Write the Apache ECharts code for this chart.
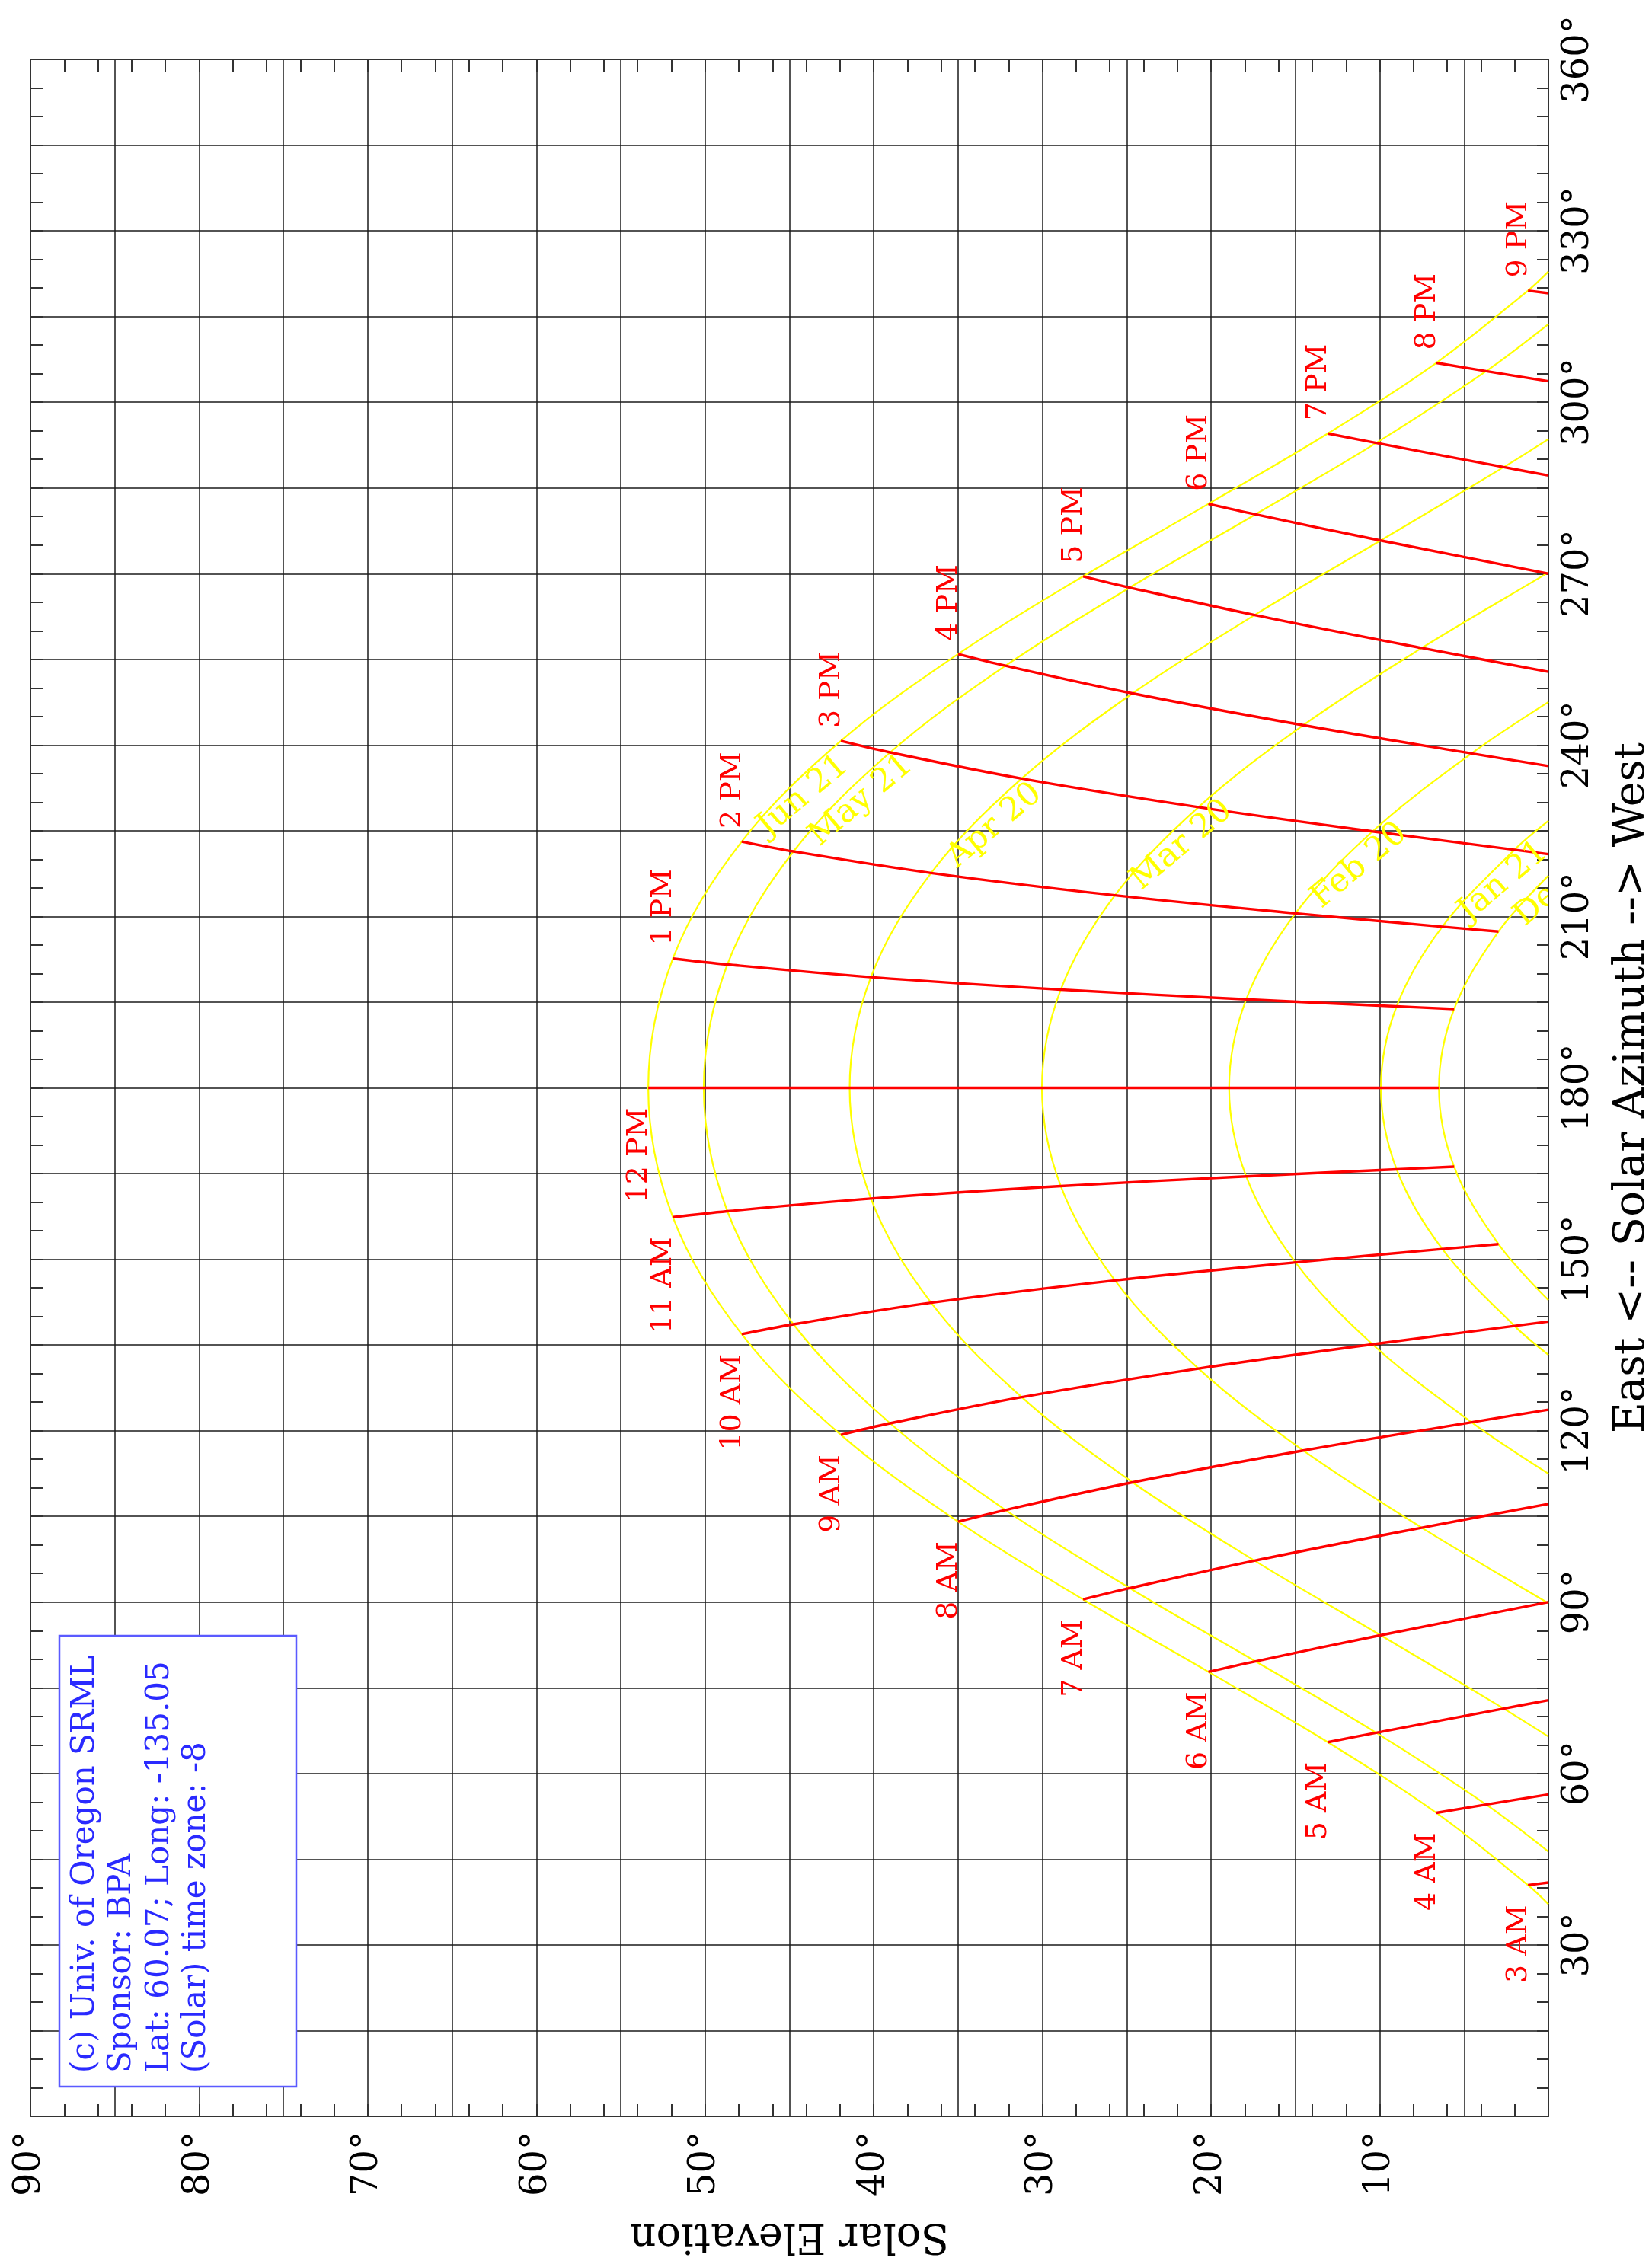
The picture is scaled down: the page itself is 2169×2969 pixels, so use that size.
<!DOCTYPE html>
<html>
<head>
<meta charset="utf-8">
<script src="https://cdn.jsdelivr.net/npm/echarts@6/dist/echarts.min.js"></script>
<style>
html,body{margin:0;padding:0;background:#ffffff;}
#chart{width:2169px;height:2969px;}
</style>
</head>
<body>
<div id="chart"></div>
<script>
// ---------------- data ----------------
const hours = [3,4,5,6,7,8,9,10,11,12,13,14,15,16,17,18,19,20,21];
const hourLabels = ['3 AM','4 AM','5 AM','6 AM','7 AM','8 AM','9 AM','10 AM','11 AM','12 PM',
  '1 PM','2 PM','3 PM','4 PM','5 PM','6 PM','7 PM','8 PM','9 PM'];
const dateNames = ['Jun 21','May 21','Apr 20','Mar 20','Feb 20','Jan 21','Dec 21'];

// solar elevation (deg) / azimuth (deg) at each hour, null = sun below horizon
const elevJun21 = [1.21,6.65,13.08,20.16,27.59,35.00,41.95,47.83,51.91,53.37,51.91,47.83,41.95,35.00,27.59,20.16,13.08,6.65,1.21];
const azJun21   = [40.46,53.12,65.48,77.79,90.47,104.07,119.28,136.89,157.37,180,202.63,223.11,240.72,255.93,269.53,282.21,294.52,306.88,319.54];
const elevMay21 = [null,3.69,10.21,17.37,24.82,32.19,39.03,44.76,48.68,50.08,48.68,44.76,39.03,32.19,24.82,17.37,10.21,3.69,null];
const azMay21   = [null,54.56,67.13,79.63,92.44,106.12,121.29,138.62,158.41,180,201.59,221.38,238.71,253.88,267.56,280.37,292.87,305.44,null];
const elevApr20 = [null,null,2.65,9.95,17.42,24.66,31.23,36.60,40.17,41.43,40.17,36.60,31.23,24.66,17.42,9.95,2.65,null,null];
const azApr20   = [null,null,71.36,84.20,97.24,110.96,125.87,142.39,160.62,180,199.38,217.61,234.13,249.04,262.76,275.80,288.64,null,null];
const elevMar20 = [null,null,null,0.09,7.51,14.54,20.75,25.70,28.91,30.03,28.91,25.70,20.75,14.54,7.51,0.09,null,null,null];
const azMar20   = [null,null,null,89.95,103.02,116.53,130.87,146.30,162.80,180,197.20,213.70,229.13,243.47,256.98,270.05,null,null,null];
const elevFeb20 = [null,null,null,null,null,4.56,10.43,15.00,17.92,18.93,17.92,15.00,10.43,4.56,null,null,null,null,null];
const azFeb20   = [null,null,null,null,null,121.48,135.11,149.46,164.51,180,195.49,210.54,224.89,238.52,null,null,null,null,null];
const elevJan21 = [null,null,null,null,null,null,2.01,6.29,9.00,9.93,9.00,6.29,2.01,null,null,null,null,null,null];
const azJan21   = [null,null,null,null,null,null,138.33,151.79,165.74,180,194.26,208.21,221.67,null,null,null,null,null,null];
const elevDec21 = [null,null,null,null,null,null,null,2.96,5.59,6.49,5.59,2.96,null,null,null,null,null,null,null];
const azDec21   = [null,null,null,null,null,null,null,152.65,166.20,180,193.80,207.35,null,null,null,null,null,null,null];

// sunrise / sunset azimuth for each date (elevation 0)
const sunriseAz = [37.14,46.33,66.45,89.80,112.48,133.27,142.86];
const sunsetAz  = [322.86,313.67,293.55,270.20,247.52,226.73,217.14];
// azimuth where each hour line meets the horizon (null = line ends on Dec 21)
const hourHorizonAz = [40.91,56.33,72.82,90.00,107.18,123.67,139.09,null,null,null,null,null,220.91,236.33,252.82,270.00,287.18,303.67,319.09];

const legendLines = ['(c) Univ. of Oregon SRML','Sponsor: BPA','Lat: 60.07; Long: -135.05','(Solar) time zone: -8'];

// --------------- build ----------------
const elevByDate = [elevJun21,elevMay21,elevApr20,elevMar20,elevFeb20,elevJan21,elevDec21];
const azByDate   = [azJun21,azMay21,azApr20,azMar20,azFeb20,azJan21,azDec21];
const FONT = '"DejaVu Serif", "Liberation Serif", serif';

const series = [];
dateNames.forEach((name, d) => {
  const pts = [[0, sunriseAz[d]]];
  hours.forEach((h, i) => { if (elevByDate[d][i] !== null) pts.push([elevByDate[d][i], azByDate[d][i]]); });
  pts.push([0, sunsetAz[d]]);
  series.push({type:'line', name, data:pts, smooth:0.35, symbol:'none', clip:true, z:2,
    lineStyle:{color:'#ffff00', width:2.2}, silent:true});
});
hours.forEach((h, i) => {
  const pts = [];
  dateNames.forEach((n, d) => { if (elevByDate[d][i] !== null) pts.push([elevByDate[d][i], azByDate[d][i]]); });
  if (hourHorizonAz[i] !== null) pts.push([0, hourHorizonAz[i]]);
  series.push({type:'line', name:hourLabels[i], data:pts, smooth:0.35, symbol:'none', clip:true, z:3,
    lineStyle:{color:'#ff0000', width:3.4}, silent:true});
});
// hour labels (anchored on the Jun 21 points)
series.push({type:'custom', name:'hourLabels', clip:false, z:5, silent:true,
  data: hours.map((h, i) => [elevJun21[i], azJun21[i], i]),
  renderItem: (params, api) => {
    const i = api.value(2);
    const p = api.coord([api.value(0), api.value(1)]);
    const pm = hours[i] > 12;
    return {type:'text', x:p[0] + 7, y: pm ? p[1] - 17 : p[1] + 26, rotation: Math.PI/2,
      style:{text:hourLabels[i], fill:'#ff0000', font:'38px ' + FONT,
        align: pm ? 'left' : 'right', verticalAlign:'bottom'}};
  }});
// date labels (anchored on the 2 PM point of each date)
series.push({type:'custom', name:'dateLabels', clip:true, z:5, silent:true,
  data: dateNames.map((n, d) => [elevByDate[d][11], azByDate[d][11], d]),
  renderItem: (params, api) => {
    const d = api.value(2);
    const p = api.coord([api.value(0), api.value(1)]);
    return {type:'text', x:p[0] + 13, y:p[1] - 31, rotation: 40*Math.PI/180,
      style:{text:dateNames[d], fill:'#ffff00', font:'43px ' + FONT,
        align:'left', verticalAlign:'top'}};
  }});

const axisCol = '#333333';
const gridCol = '#1a1a1a';
function xBase(extra){
  return Object.assign({type:'value', min:0, max:90, inverse:true, gridIndex:0}, extra);
}
function yBase(extra){
  return Object.assign({type:'value', min:0, max:360, gridIndex:0}, extra);
}

const option = {
  animation:false,
  backgroundColor:'#ffffff',
  grid:{left:40, top:78, width:1993, height:2701, containLabel:false, outerBoundsMode:'none'},
  xAxis:[
    xBase({position:'bottom', interval:2,
      axisLine:{show:true, onZero:false, lineStyle:{color:axisCol, width:2}},
      axisTick:{show:true, inside:true, length:16, lineStyle:{color:axisCol, width:2}},
      axisLabel:{show:true, rotate:90, margin:20, color:'#000', fontFamily:FONT, fontSize:48,
        formatter:(v) => (v % 10 === 0 && v > 0) ? v + '°' : ''},
      splitLine:{show:false},
      name:'Solar Elevation', nameLocation:'middle', nameRotate:180, nameGap:129,
      nameTextStyle:{color:'#000', fontFamily:FONT, fontSize:54}}),
    xBase({position:'bottom', interval:5,
      axisLine:{show:false, onZero:false}, axisTick:{show:false}, axisLabel:{show:false},
      splitLine:{show:true, lineStyle:{color:gridCol, width:1.5}}}),
    xBase({position:'top', interval:2,
      axisLine:{show:true, onZero:false, lineStyle:{color:axisCol, width:2}},
      axisTick:{show:true, inside:true, length:16, lineStyle:{color:axisCol, width:2}},
      axisLabel:{show:false}, splitLine:{show:false}})
  ],
  yAxis:[
    yBase({position:'right', interval:5,
      axisLine:{show:true, onZero:false, lineStyle:{color:axisCol, width:2}},
      axisTick:{show:true, inside:true, length:15, lineStyle:{color:axisCol, width:2}},
      axisLabel:{show:true, rotate:90, margin:16, color:'#000', fontFamily:FONT, fontSize:48,
        formatter:(v) => (v % 30 === 0 && v > 0) ? v + '°' : ''},
      splitLine:{show:false},
      name:'East <-- Solar Azimuth --> West', nameLocation:'middle', nameRotate:90, nameGap:82,
      nameTextStyle:{color:'#000', fontFamily:FONT, fontSize:56}}),
    yBase({position:'left', interval:5,
      axisLine:{show:true, onZero:false, lineStyle:{color:axisCol, width:2}},
      axisTick:{show:true, inside:true, length:16, lineStyle:{color:axisCol, width:2}},
      axisLabel:{show:false}, splitLine:{show:false}}),
    yBase({position:'left', interval:15,
      axisLine:{show:false, onZero:false}, axisTick:{show:false}, axisLabel:{show:false},
      splitLine:{show:true, lineStyle:{color:gridCol, width:1.5}}})
  ],
  series: series,
  graphic:[
    {type:'rect', z:100, shape:{x:78, y:2148, width:311, height:592},
      style:{fill:'#ffffff', stroke:'#5a5aff', lineWidth:2.5}},
    ...legendLines.map((t, k) => ({type:'text', z:101, x:[133.5,181.5,231.5,279.5][k], y:2722,
      rotation:Math.PI/2,
      style:{text:t, fill:'#2a2aff', font:'42px ' + FONT, align:'left', verticalAlign:'bottom'}}))
  ]
};

const chart = echarts.init(document.getElementById('chart'), null, {renderer:'canvas'});
chart.setOption(option);
</script>
</body>
</html>
